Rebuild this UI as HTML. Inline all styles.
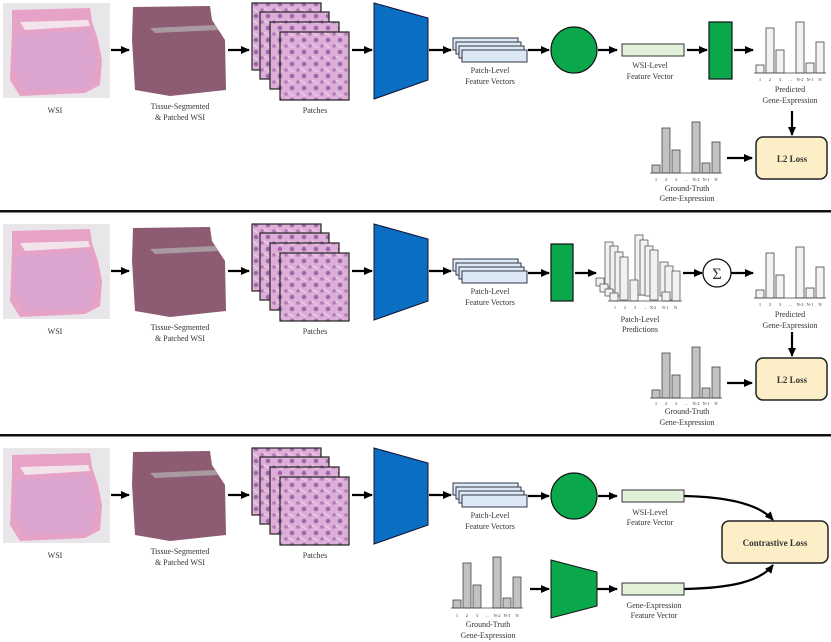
<!DOCTYPE html>
<html><head><meta charset="utf-8"><style>
html,body{margin:0;padding:0;background:#fff;}
svg{display:block;}
text{font-family:"Liberation Serif",serif;fill:#333;}
</style></head><body>
<svg width="831" height="642" viewBox="0 0 831 642" xmlns="http://www.w3.org/2000/svg">
<defs>
<marker id="ah" markerWidth="9" markerHeight="8" refX="8" refY="4" orient="auto" markerUnits="userSpaceOnUse">
<path d="M0,0 L9,4 L0,8 z" fill="#000"/></marker>
<pattern id="cells" width="12" height="12" patternUnits="userSpaceOnUse">
<rect width="12" height="12" fill="#dcaed8"/>
<circle cx="4" cy="4" r="2.3" fill="#a068a8"/><circle cx="10" cy="10" r="1.8" fill="#b47ab6"/>
<path d="M0,8 L6,12" stroke="#f0d6ee" stroke-width="1"/></pattern>
<g id="pipe">
 <rect x="3" y="3" width="107" height="95" fill="#e8e6e8"/>
 <path d="M12,10 L90,8 L92,22 L98,40 L102,60 L100,85 L85,93 L20,96 L10,80 L12,30 Z" fill="#e7a2c8"/>
 <path d="M15,35 L90,30 L96,60 L90,88 L25,90 L14,70 Z" fill="#d4a6d4" opacity="0.6"/>
 <path d="M20,22 L88,20 L90,26 L25,30 Z" fill="#f3e4ec"/>
 <path d="M133,7 L210,6 L212,20 L225,40 L226,90 L170,96 L135,90 L132,40 Z" fill="#8d5b72"/>
 <path d="M150,28 L215,25 L218,30 L155,33 Z" fill="#a99aa0"/>
 <text x="55" y="113" font-size="8" text-anchor="middle">WSI</text>
 <text x="180" y="109" font-size="8" text-anchor="middle">Tissue-Segmented</text>
 <text x="180" y="120" font-size="8" text-anchor="middle">&amp; Patched WSI</text>
 <g stroke="#222" stroke-width="1.2" fill="url(#cells)">
  <rect x="252" y="3" width="69" height="67"/>
  <rect x="260" y="12" width="69" height="67"/>
  <rect x="270" y="22" width="69" height="67"/>
  <rect x="280" y="32" width="69" height="68"/>
 </g>
 <text x="315" y="113" font-size="8" text-anchor="middle">Patches</text>
 <path d="M374,3 L428,18 L428,80 L374,99 Z" fill="#0a6fc2" stroke="#113" stroke-width="1"/>
 <g stroke="#334" stroke-width="1" fill="#dbe8f5">
  <rect x="453" y="38" width="65" height="12"/>
  <rect x="456" y="42" width="65" height="12"/>
  <rect x="459" y="46" width="65" height="12"/>
  <rect x="462" y="50" width="65" height="12"/>
 </g>
 <text x="490" y="73" font-size="8" text-anchor="middle">Patch-Level</text>
 <text x="490" y="84" font-size="8" text-anchor="middle">Feature Vectors</text>
 <g stroke="#000" stroke-width="2.2" marker-end="url(#ah)">
  <line x1="111" y1="50" x2="129" y2="50"/>
  <line x1="228" y1="50" x2="249" y2="50"/>
  <line x1="352" y1="50" x2="372" y2="50"/>
  <line x1="429" y1="50" x2="451" y2="50"/>
 </g>
</g>
<g id="bars" stroke="#444" stroke-width="0.8">
 <rect x="0" y="65" width="8" height="8"/><rect x="10" y="28" width="8" height="45"/><rect x="20" y="50" width="8" height="23"/>
 <rect x="40" y="22" width="8" height="51"/><rect x="50" y="63" width="8" height="10"/><rect x="60" y="42" width="8" height="31"/>
 <line x1="-2" y1="73" x2="70" y2="73"/>
</g>
<g id="ticks" font-size="4.5">
 <text x="4" y="0" text-anchor="middle">1</text><text x="14" y="0" text-anchor="middle">2</text><text x="24" y="0" text-anchor="middle">3</text>
 <text x="34" y="0" text-anchor="middle">...</text><text x="44" y="0" text-anchor="middle">N-2</text><text x="54" y="0" text-anchor="middle">N-1</text><text x="64" y="0" text-anchor="middle">N</text>
</g>
<g id="l2">
 <rect x="756" y="137" width="71" height="42" rx="7" fill="#fcefc8" stroke="#222" stroke-width="1.5"/>
 <text x="792" y="162" font-size="9" font-weight="bold" text-anchor="middle" fill="#111">L2 Loss</text>
</g>
</defs>

<!-- Panel 1 -->
<use href="#pipe"/>
<g stroke="#000" stroke-width="2.2" marker-end="url(#ah)">
 <line x1="528" y1="50" x2="549" y2="50"/>
 <line x1="598" y1="50" x2="617" y2="50"/>
 <line x1="687" y1="50" x2="707" y2="50"/>
 <line x1="734" y1="50" x2="753" y2="50"/>
 <line x1="792" y1="111" x2="792" y2="135"/>
 <line x1="727" y1="158" x2="752" y2="158"/>
</g>
<circle cx="574" cy="50" r="23" fill="#0aa84a" stroke="#111" stroke-width="1.2"/>
<rect x="622" y="44" width="62" height="12" fill="#e3f0d8" stroke="#333" stroke-width="1"/>
<text x="650" y="68" font-size="8" text-anchor="middle">WSI-Level</text>
<text x="650" y="79" font-size="8" text-anchor="middle">Feature Vector</text>
<rect x="709" y="22" width="23" height="57" fill="#0aa84a" stroke="#111" stroke-width="1.2"/>
<use href="#bars" x="756" y="0" fill="#f3f3f3"/>
<use href="#ticks" x="756" y="81"/>
<text x="790" y="92" font-size="8" text-anchor="middle">Predicted</text>
<text x="790" y="103" font-size="8" text-anchor="middle">Gene-Expression</text>
<use href="#bars" x="652" y="100" fill="#c2c2c2"/>
<use href="#ticks" x="652" y="181"/>
<text x="687" y="191" font-size="8" text-anchor="middle">Ground-Truth</text>
<text x="687" y="201" font-size="8" text-anchor="middle">Gene-Expression</text>
<use href="#l2"/>

<rect x="0" y="210" width="831" height="2.5" fill="#111"/>

<!-- Panel 2 -->
<use href="#pipe" y="221"/>
<g stroke="#000" stroke-width="2.2" marker-end="url(#ah)">
 <line x1="528" y1="273" x2="549" y2="273"/>
 <line x1="575" y1="273" x2="596" y2="273"/>
 <line x1="683" y1="273" x2="702" y2="273"/>
 <line x1="731" y1="273" x2="753" y2="273"/>
 <line x1="792" y1="332" x2="792" y2="356"/>
 <line x1="727" y1="383" x2="752" y2="383"/>
</g>
<rect x="551" y="244" width="22" height="57" fill="#0aa84a" stroke="#111" stroke-width="1.2"/>
<g fill="#f1f1f1" stroke="#444" stroke-width="0.7">
 <rect x="605" y="242" width="8" height="45"/><rect x="635" y="235" width="8" height="60"/>
 <rect x="610" y="246" width="8" height="45"/><rect x="640" y="240" width="8" height="55"/>
 <rect x="615" y="252" width="8" height="44"/><rect x="645" y="246" width="8" height="50"/><rect x="660" y="262" width="8" height="34"/>
 <rect x="620" y="257" width="8" height="43"/><rect x="650" y="250" width="8" height="50"/><rect x="665" y="266" width="8" height="34"/>
 <rect x="596" y="278" width="8" height="8"/><rect x="600" y="284" width="8" height="8"/><rect x="605" y="289" width="8" height="7"/>
 <rect x="610" y="293" width="8" height="8"/><rect x="630" y="280" width="8" height="21"/><rect x="662" y="292" width="8" height="9"/>
 <rect x="672" y="271" width="8" height="30"/>
 <line x1="608" y1="301" x2="682" y2="301"/>
</g>
<g font-size="4" fill="#333"><text x="614" y="309">1</text><text x="624" y="309">2</text><text x="634" y="309">3</text><text x="644" y="309">...</text><text x="650" y="309">N-2</text><text x="662" y="309">N-1</text><text x="674" y="309">N</text></g>
<text x="640" y="322" font-size="8" text-anchor="middle">Patch-Level</text>
<text x="640" y="332" font-size="8" text-anchor="middle">Predictions</text>
<circle cx="717" cy="273" r="14" fill="#fff" stroke="#111" stroke-width="1.3"/>
<text x="717" y="279" font-size="16" text-anchor="middle" fill="#111">Σ</text>
<use href="#bars" x="756" y="225" fill="#f3f3f3"/>
<use href="#ticks" x="756" y="306"/>
<text x="790" y="317" font-size="8" text-anchor="middle">Predicted</text>
<text x="790" y="328" font-size="8" text-anchor="middle">Gene-Expression</text>
<use href="#bars" x="652" y="325" fill="#c2c2c2"/>
<use href="#ticks" x="652" y="405"/>
<text x="687" y="414" font-size="8" text-anchor="middle">Ground-Truth</text>
<text x="687" y="425" font-size="8" text-anchor="middle">Gene-Expression</text>
<use href="#l2" y="221"/>

<rect x="0" y="434" width="831" height="2.5" fill="#111"/>

<!-- Panel 3 -->
<use href="#pipe" y="445"/>
<g stroke="#000" stroke-width="2.2" marker-end="url(#ah)" fill="none">
 <line x1="528" y1="496" x2="549" y2="496"/>
 <line x1="598" y1="496" x2="617" y2="496"/>
 <line x1="530" y1="589" x2="549" y2="589"/>
 <line x1="597" y1="589" x2="617" y2="589"/>
 <path d="M684,496 C730,497 760,505 773,520"/>
 <path d="M684,589 C730,588 760,582 773,565"/>
</g>
<circle cx="574" cy="496" r="23" fill="#0aa84a" stroke="#111" stroke-width="1.2"/>
<rect x="622" y="490" width="62" height="12" fill="#e3f0d8" stroke="#333" stroke-width="1"/>
<text x="650" y="515" font-size="8" text-anchor="middle">WSI-Level</text>
<text x="650" y="525" font-size="8" text-anchor="middle">Feature Vector</text>
<rect x="722" y="521" width="106" height="42" rx="7" fill="#fcefc8" stroke="#222" stroke-width="1.5"/>
<text x="775" y="546" font-size="9" font-weight="bold" text-anchor="middle" fill="#111">Contrastive Loss</text>
<use href="#bars" x="453" y="535" fill="#c2c2c2"/>
<use href="#ticks" x="453" y="617"/>
<text x="488" y="627" font-size="8" text-anchor="middle">Ground-Truth</text>
<text x="488" y="638" font-size="8" text-anchor="middle">Gene-Expression</text>
<path d="M551,560 L597,572 L597,606 L551,618 Z" fill="#0aa84a" stroke="#111" stroke-width="1"/>
<rect x="622" y="583" width="62" height="12" fill="#e3f0d8" stroke="#333" stroke-width="1"/>
<text x="654" y="608" font-size="8" text-anchor="middle">Gene-Expression</text>
<text x="654" y="618" font-size="8" text-anchor="middle">Feature Vector</text>
</svg>
</body></html>
